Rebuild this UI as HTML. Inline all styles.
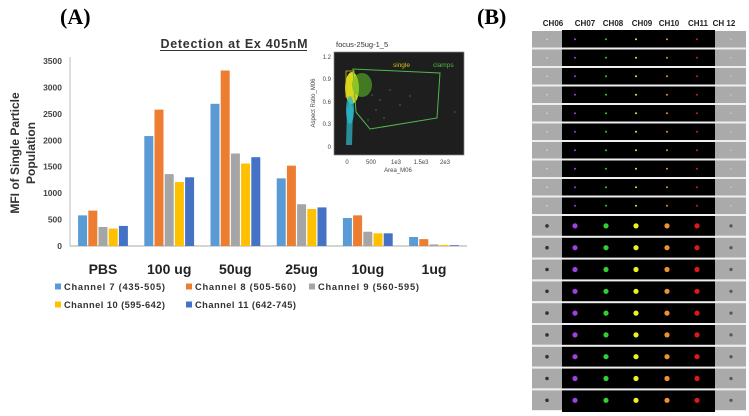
<!DOCTYPE html>
<html><head><meta charset="utf-8">
<style>
html,body{margin:0;padding:0;background:#fff;}
body{width:749px;height:416px;overflow:hidden;position:relative;font-family:"Liberation Sans",sans-serif;}
svg{position:absolute;left:0;top:0;}
</style></head>
<body>
<svg id="main" width="749" height="416" viewBox="0 0 749 416">
  <text x="60" y="24" font-family="Liberation Serif" font-weight="bold" font-size="22">(A)</text>
  <text x="477" y="24" font-family="Liberation Serif" font-weight="bold" font-size="22">(B)</text>
  <text x="234" y="48" text-anchor="middle" font-weight="bold" font-size="12.5" fill="#333" textLength="147">Detection at Ex 405nM</text>
  <line x1="160" y1="50.5" x2="307" y2="50.5" stroke="#333" stroke-width="1"/>
  <g id="yaxis"></g>
  <g id="bars"></g>
  <g id="xlabels"></g>
  <text transform="translate(19,153) rotate(-90)" text-anchor="middle" font-weight="bold" font-size="12" fill="#333">MFI of Single Particle</text>
  <text transform="translate(35,153) rotate(-90)" text-anchor="middle" font-weight="bold" font-size="12" fill="#333">Population</text>
  <g id="legend"></g>

  <g>
    <text x="336" y="47" font-size="7.5" fill="#333">focus-25ug-1_5</text>
    <rect x="334" y="52" width="130" height="103" fill="#1e1e1e" stroke="#888" stroke-width="0.7"/>
    <g font-size="6" fill="#444" text-anchor="end">
      <text x="331" y="59">1.2</text><text x="331" y="81">0.9</text><text x="331" y="104">0.6</text><text x="331" y="126">0.3</text><text x="331" y="149">0</text>
    </g>
    <g font-size="6" fill="#444" text-anchor="middle">
      <text x="347" y="164">0</text><text x="371" y="164">500</text><text x="396" y="164">1e3</text><text x="421" y="164">1.5e3</text><text x="445" y="164">2e3</text>
      <text x="398" y="172">Area_M06</text>
    </g>
    <text transform="translate(315,103) rotate(-90)" text-anchor="middle" font-size="6" fill="#444">Aspect Ratio_M06</text>
    <path d="M346,145 L347,110 L350,100 L353,110 L352,145 Z" fill="#2aa9b8" opacity="0.8"/>
    <ellipse cx="352" cy="88" rx="7" ry="16" fill="#d8d81a"/>
    <ellipse cx="362" cy="85" rx="10" ry="12" fill="#5ab828" opacity="0.6"/>
    <ellipse cx="350" cy="110" rx="4" ry="14" fill="#2ab8c8" opacity="0.8"/>
    <g fill="#5c5" opacity="0.8">
      <circle cx="372" cy="95" r="0.6"/><circle cx="380" cy="100" r="0.6"/><circle cx="390" cy="90" r="0.6"/><circle cx="376" cy="110" r="0.6"/><circle cx="400" cy="105" r="0.6"/><circle cx="368" cy="120" r="0.6"/><circle cx="384" cy="118" r="0.6"/><circle cx="410" cy="96" r="0.6"/><circle cx="455" cy="112" r="0.6"/>
    </g>
    <polygon points="353,69 440,73 437,118 370,129 356,112" fill="none" stroke="#4db84d" stroke-width="1"/>
    <rect x="346" y="71" width="8" height="26" fill="none" stroke="#c8b820" stroke-width="0.8"/>
    <text x="393" y="67" font-size="6.5" fill="#d0c020">single</text>
    <text x="433" y="67" font-size="6.5" fill="#4db84d">clamps</text>
  </g>

  <g id="panelB"></g>
</svg>
<script>
const categories = ["PBS","100 ug","50ug","25ug","10ug","1ug"];
const seriesNames = ["Channel 7  (435-505)","Channel  8 (505-560)","Channel  9 (560-595)","Channel 10 (595-642)","Channel 11 (642-745)"];
const ch7 = [580,2080,2690,1280,530,170];
const ch8 = [670,2580,3320,1520,580,130];
const ch9 = [360,1360,1750,790,270,30];
const ch10 = [330,1210,1560,700,240,20];
const ch11 = [380,1300,1680,730,240,15];
const yTicks = [0,500,1000,1500,2000,2500,3000,3500];
const series = [ch7,ch8,ch9,ch10,ch11];
const colors = ["#5b9bd5","#ed7d31","#a5a5a5","#ffc000","#4472c4"];
const NS="http://www.w3.org/2000/svg";
function mk(tag,attrs,parent){const e=document.createElementNS(NS,tag);for(const k in attrs)e.setAttribute(k,attrs[k]);parent.appendChild(e);return e;}
const y0=246, yTop=61, yMax=3500;
function yScale(v){return y0-(v/yMax)*(y0-yTop);}
const gStart=103, gStep=66.2, barW=9, barGap=1.2;
function xCenter(i){return gStart+i*gStep;}

const ya=document.getElementById('yaxis');
mk('line',{x1:70,y1:yTop-4,x2:70,y2:y0,stroke:'#bbb','stroke-width':1},ya);
mk('line',{x1:70,y1:y0,x2:467,y2:y0,stroke:'#bbb','stroke-width':1.2},ya);
yTicks.forEach(t=>{
  const tx=mk('text',{x:62,y:yScale(t)+3,'text-anchor':'end','font-size':'8.5','font-weight':'bold',fill:'#444'},ya);
  tx.textContent=t;
  
  
});
const bg=document.getElementById('bars');
series.forEach((s,si)=>{
  s.forEach((v,ci)=>{
    const x=xCenter(ci)-(5*barW+4*barGap)/2+si*(barW+barGap);
    const r=mk('rect',{x:x,y:yScale(v),width:barW,height:y0-yScale(v),fill:colors[si]},bg);
    
    
  });
});
const xl=document.getElementById('xlabels');
categories.forEach((c,i)=>{
  const t=mk('text',{x:xCenter(i),y:274,'text-anchor':'middle','font-size':'14','font-weight':'bold',fill:'#222'},xl);
  t.textContent=c;
  
  
});
const lg=document.getElementById('legend');
const legPos=[[55,290],[186,290],[309,290],[55,308],[186,308]];
seriesNames.forEach((n,i)=>{
  const [x,y]=legPos[i];
  const g=mk('g',{},lg);
  
  
  mk('rect',{x:x,y:y-6.5,width:6,height:6,fill:colors[i]},g);
  const t=mk('text',{x:x+9,y:y,'font-size':'9.3','font-weight':'bold',fill:'#333',textLength:'101',lengthAdjust:'spacing'},g);
  t.textContent=n;
});

const pb=document.getElementById('panelB');
const heads=[["CH06",553],["CH07",585],["CH08",613],["CH09",642],["CH10",669],["CH11",698],["CH 12",724]];
heads.forEach(h=>{const t=mk('text',{x:h[1],y:26,'text-anchor':'middle','font-size':'8','font-weight':'bold',fill:'#222'},pb);t.textContent=h[0];});
mk('rect',{x:562,y:30,width:153,height:382,fill:'#000'},pb);
const dotX=[575,606,636,667,697];
const dotC=["#a040e0","#30d030","#f0f020","#f09030","#e01818"];
let yy=31;
for(let r=0;r<19;r++){
  const big=r>=10, h=big?19.8:16.5, pitch=big?21.8:18.5;
  mk('rect',{x:532,y:yy,width:30,height:h,fill:'#aaa'},pb);
  mk('rect',{x:715,y:yy,width:31,height:h,fill:'#aaa'},pb);
  const cy=yy+h/2;
  mk('circle',{cx:547,cy:cy,r:big?1.8:0.8,fill:big?'#333':'#ddd'},pb);
  mk('circle',{cx:731,cy:cy,r:big?1.6:0.8,fill:big?'#555':'#ccc'},pb);
  dotX.forEach((dx,k)=>mk('circle',{cx:dx,cy:cy,r:big?2.6:1,fill:dotC[k]},pb));
  if(r<18) mk('rect',{x:532,y:yy+h,width:214,height:pitch-h,fill:'#eee'},pb);
  yy+=pitch;
}
</script>
</body></html>
